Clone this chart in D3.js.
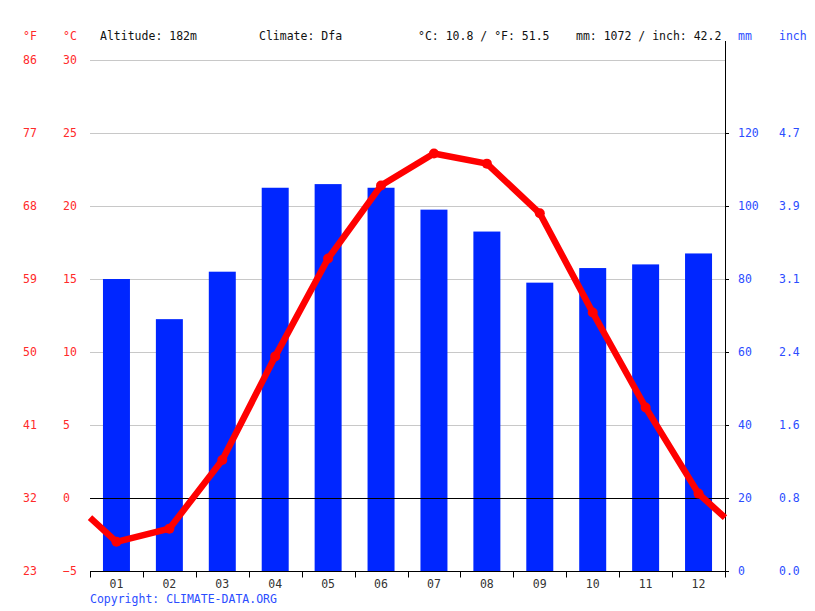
<!DOCTYPE html>
<html>
<head>
<meta charset="utf-8">
<script src="https://cdn.jsdelivr.net/npm/d3@7/dist/d3.min.js"></script>
<style>
  body { margin: 0; background: #fff; }
  text { font-family: "DejaVu Sans Mono", monospace; font-size: 11.5px; }
</style>
</head>
<body>
<div id="chart"></div>
<script>
// data
var months = ["01", "02", "03", "04", "05", "06", "07", "08", "09", "10", "11", "12"];
var precip = [80, 69, 82, 105, 106, 105, 99, 93, 79, 83, 84, 87];
var temp = [-3.0, -2.1, 2.6, 9.7, 16.4, 21.4, 23.6, 22.9, 19.5, 12.7, 6.2, 0.3];
var tempTicks = [-5, 0, 5, 10, 15, 20, 25, 30];
var fahrLabels = ["23", "32", "41", "50", "59", "68", "77", "86"];
var mmTicks = [0, 20, 40, 60, 80, 100, 120];
var inchLabels = ["0.0", "0.8", "1.6", "2.4", "3.1", "3.9", "4.7"];
var header = [
  {x: 100, t: "Altitude: 182m"},
  {x: 259, t: "Climate: Dfa"},
  {x: 418, t: "°C: 10.8 / °F: 51.5"},
  {x: 576, t: "mm: 1072 / inch: 42.2"}
];

(function(){

var W = 815, H = 611;
var plotL = 90, plotR = 725, plotT = 60, plotB = 571;
var red = "#ff0000", blue = "#0026ff", redText = "#ff2a2a", blueText = "#2b4dff";

var svg = d3.select("#chart").append("svg")
    .attr("width", W)
    .attr("height", H);

var x = d3.scaleBand()
    .domain(months)
    .range([plotL, plotR])
    .paddingInner(0.49)
    .paddingOuter(0.245);

var yT = d3.scaleLinear().domain([-5, 30]).range([plotB, plotT]);
var yP = d3.scaleLinear().domain([0, 140]).range([plotB, plotT]);

// grid lines
svg.append("g")
    .selectAll("line")
    .data(tempTicks.filter(function(d) { return d > -5; }))
    .enter()
    .append("line")
    .attr("x1", plotL)
    .attr("x2", plotR)
    .attr("y1", function(d) { return yT(d) + 0.5; })
    .attr("y2", function(d) { return yT(d) + 0.5; })
    .attr("stroke", function(d) { return d == 0 ? "#000" : "#c8c8c8"; })
    .attr("stroke-width", 1);

// bars
svg.append("g")
    .selectAll("rect")
    .data(precip)
    .enter()
    .append("rect")
    .attr("x", function(d, i) { return x(months[i]); })
    .attr("y", function(d) { return yP(d); })
    .attr("width", x.bandwidth())
    .attr("height", function(d) { return yP(0) - yP(d); })
    .attr("fill", blue);

// zero line above bars
svg.append("line")
    .attr("x1", plotL).attr("x2", plotR)
    .attr("y1", yT(0) + 0.5).attr("y2", yT(0) + 0.5)
    .attr("stroke", "#000");

// x axis
var xAxis = svg.append("g")
    .attr("transform", "translate(0," + (plotB + 0.5) + ")");
xAxis.append("line")
    .attr("x1", plotL).attr("x2", plotR)
    .attr("stroke", "#000");
xAxis.selectAll(".tk")
    .data(months.concat(["end"]))
    .enter()
    .append("line")
    .attr("x1", function(d, i) { return Math.round(plotL + i * x.step()) + 0.5; })
    .attr("x2", function(d, i) { return Math.round(plotL + i * x.step()) + 0.5; })
    .attr("y1", 0).attr("y2", 6)
    .attr("stroke", "#000");
xAxis.selectAll("text")
    .data(months)
    .enter()
    .append("text")
    .attr("x", function(d) { return x(d) + x.bandwidth() / 2; })
    .attr("y", 16)
    .attr("text-anchor", "middle")
    .attr("fill", "#333")
    .text(function(d) { return d; });

// right axis
var rAxis = svg.append("g");
rAxis.append("line")
    .attr("x1", plotR + 0.5).attr("x2", plotR + 0.5)
    .attr("y1", 41).attr("y2", plotB + 6)
    .attr("stroke", "#000");
rAxis.selectAll(".tk")
    .data(mmTicks)
    .enter()
    .append("line")
    .attr("x1", plotR).attr("x2", plotR + 4)
    .attr("y1", function(d) { return yP(d) + 0.5; })
    .attr("y2", function(d) { return yP(d) + 0.5; })
    .attr("stroke", "#000");
rAxis.selectAll(".mm")
    .data(mmTicks)
    .enter()
    .append("text")
    .attr("x", 738)
    .attr("y", function(d) { return yP(d) + 4; })
    .attr("fill", blueText)
    .text(function(d) { return d; });
rAxis.selectAll(".inch")
    .data(mmTicks)
    .enter()
    .append("text")
    .attr("x", 779)
    .attr("y", function(d) { return yP(d) + 4; })
    .attr("fill", blueText)
    .text(function(d, i) { return inchLabels[i]; });

// left labels
svg.selectAll(".c")
    .data(tempTicks)
    .enter()
    .append("text")
    .attr("x", 63)
    .attr("y", function(d) { return yT(d) + 4; })
    .attr("fill", redText)
    .text(function(d) { return d < 0 ? "−" + Math.abs(d) : d; });
svg.selectAll(".f")
    .data(tempTicks)
    .enter()
    .append("text")
    .attr("x", 23)
    .attr("y", function(d) { return yT(d) + 4; })
    .attr("fill", redText)
    .text(function(d, i) { return fahrLabels[i]; });

// headers
svg.append("text").attr("x", 23).attr("y", 40).attr("fill", redText).text("°F");
svg.append("text").attr("x", 63).attr("y", 40).attr("fill", redText).text("°C");
svg.append("text").attr("x", 738).attr("y", 40).attr("fill", blueText).text("mm");
svg.append("text").attr("x", 779).attr("y", 40).attr("fill", blueText).text("inch");
svg.selectAll(".hdr")
    .data(header)
    .enter()
    .append("text")
    .attr("x", function(d) { return d.x; })
    .attr("y", 40)
    .attr("fill", "#111")
    .text(function(d) { return d.t; });

// temperature line, wrapping to the chart edges
var edge = (temp[0] + temp[temp.length - 1]) / 2;
var pts = [{px: plotL, t: edge}]
    .concat(temp.map(function(d, i) { return {px: x(months[i]) + x.bandwidth() / 2, t: d}; }))
    .concat([{px: plotR, t: edge}]);

var line = d3.line()
    .x(function(d) { return d.px; })
    .y(function(d) { return yT(d.t); });

svg.append("path")
    .datum(pts)
    .attr("d", line)
    .attr("fill", "none")
    .attr("stroke", red)
    .attr("stroke-width", 6.5)
    .attr("stroke-linejoin", "round");

svg.append("g")
    .selectAll("circle")
    .data(temp)
    .enter()
    .append("circle")
    .attr("cx", function(d, i) { return x(months[i]) + x.bandwidth() / 2; })
    .attr("cy", function(d) { return yT(d); })
    .attr("r", 5)
    .attr("fill", red);

// copyright
svg.append("text")
    .attr("x", 90)
    .attr("y", 603)
    .attr("fill", blueText)
    .text("Copyright: CLIMATE-DATA.ORG");

})();
</script>
</body>
</html>
